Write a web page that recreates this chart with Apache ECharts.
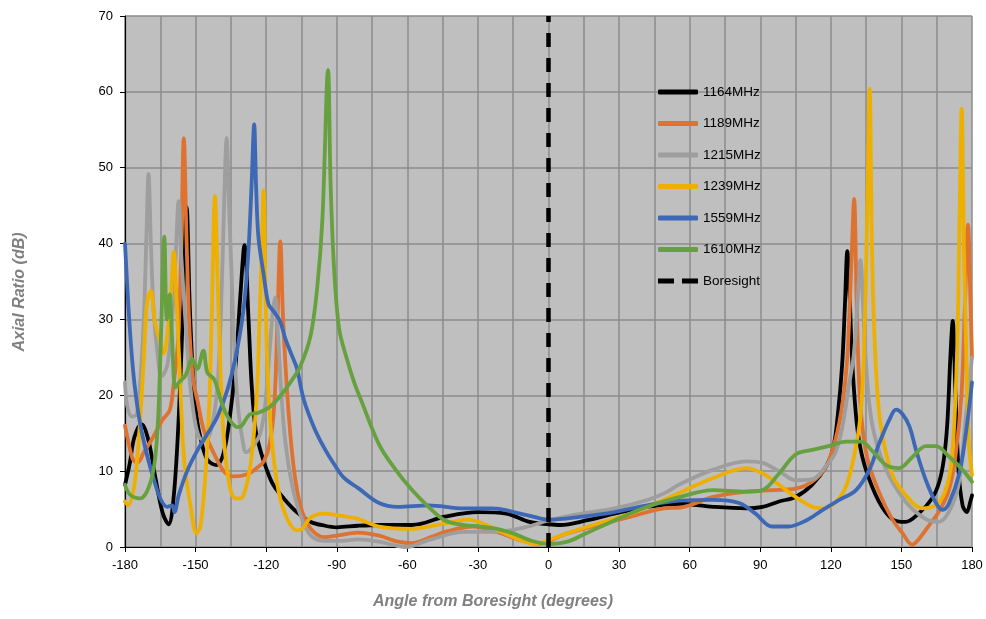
<!DOCTYPE html>
<html>
<head>
<meta charset="utf-8">
<script src="https://cdn.jsdelivr.net/npm/echarts@6/dist/echarts.min.js"></script>
<style>
html,body{margin:0;padding:0;background:#fff;}
#chart{width:986px;height:619px;}
</style>
</head>
<body>
<div id="chart"></div>
<script>
var seriesNames = ['1164MHz','1189MHz','1215MHz','1239MHz','1559MHz','1610MHz','Boresight'];
var xTicks = [-180,-150,-120,-90,-60,-30,0,30,60,90,120,150,180];
var yTicks = [0,10,20,30,40,50,60,70];

var ar1164 = [[-180,8.2],[-178,11],[-176,14.5],[-173,16.2],[-170,14],[-167,9],[-164,4.5],[-161.5,3.0],[-159.5,6],[-157.5,15],[-155.5,30],[-153.8,44.8],[-152.5,32],[-151,22],[-149.5,17],[-148,14.5],[-145,11.5],[-141,10.8],[-138,12.5],[-135.5,17],[-133,24],[-131,33],[-129.2,39.8],[-127.5,30],[-126.2,21.5],[-124.5,15.5],[-122.5,12.8],[-120,10.4],[-117,8.2],[-112.5,6.4],[-107,4.6],[-101,3.3],[-95,2.8],[-90,2.6],[-81,2.8],[-72,2.9],[-58,2.9],[-44,4.0],[-30,4.6],[-18,4.4],[-8,3.3],[0,3.0],[5,2.9],[16,3.5],[28,4.4],[42,5.3],[56,5.7],[70,5.3],[84,5.1],[91,5.3],[98,6.0],[105,6.6],[112,8.2],[118,10.6],[121,13],[123,17.5],[124.8,24],[126,32],[127,39],[128,33],[129,25],[130.5,18],[132,14],[134.7,10.4],[140.4,6.0],[146,3.7],[151.7,3.3],[157.3,4.4],[163,6.4],[166,8.5],[168,11.5],[169.5,16.3],[170.8,25],[171.8,29.8],[172.9,21],[174.3,10],[176,5.5],[177.8,4.6],[179.3,6.0],[180,6.8]];

var ar1189 = [[-180,16],[-178,13],[-176.5,11.5],[-174.5,11.2],[-172,12.5],[-168,14.5],[-164,16.8],[-161,18],[-159.5,21],[-157.5,27],[-156.2,38],[-155,53.9],[-153.8,40],[-152.5,28],[-151,22],[-149,19],[-146.5,15.4],[-142,12.2],[-138,10],[-134,9.3],[-128,9.6],[-124,10.4],[-121,11.3],[-118.5,13.6],[-116.5,19],[-115.2,30],[-114,40.3],[-112.8,30],[-111,20],[-108.5,11],[-105.5,5.5],[-101,2.4],[-95,1.3],[-90,1.5],[-81,1.9],[-72,1.5],[-64,0.7],[-58,0.5],[-50,1.3],[-44,2.0],[-32,2.7],[-22,2.0],[-12,0.9],[-4,0.4],[0,0.8],[8,1.8],[21,2.9],[35,4.0],[49,5.1],[56,5.2],[70,6.6],[84,7.3],[95,7.5],[105,7.7],[112,8.6],[118,10.6],[122,14.2],[125,19],[127,25],[128.8,38],[129.9,45.9],[131,32],[132.5,19],[135.4,11.8],[140.4,7.3],[146,3.7],[150.3,1.9],[154.6,0.3],[157.3,1.0],[161.6,2.8],[165.8,4.6],[170,7.3],[172.9,11.8],[175.5,20],[177,32],[178.3,42.5],[179.3,33],[180,25]];

var ar1215 = [[-180,21.7],[-179,18.5],[-177,17.2],[-175,17.5],[-173.5,22],[-172,30],[-170.8,42],[-170,49.2],[-169,40],[-167.8,31],[-166,25],[-164.5,22.5],[-162,24],[-160,30],[-158.5,38],[-157.2,45.6],[-156,38],[-154.3,29.7],[-152.5,22],[-150.5,17],[-148.5,14.5],[-146,14],[-143,16],[-140.5,22],[-138.8,35],[-137.8,46],[-136.8,53.9],[-135.8,45],[-134.7,36],[-133.5,26],[-132,18.5],[-130,14],[-128.5,12.5],[-126,13.1],[-122.6,14.9],[-120.5,18.5],[-118.5,26],[-117.2,31],[-116.1,32.9],[-115,28],[-113.5,20],[-111.9,14],[-109,8.2],[-105.4,4.2],[-101,1.5],[-95,0.8],[-88,0.8],[-81,1.0],[-72,0.7],[-65,0.2],[-60.5,0],[-51,0.9],[-36,2.0],[-22,2.0],[-10,2.6],[0,3.5],[14,4.4],[28,5.1],[42,6.2],[50,7.2],[56,8.3],[70,10.2],[84,11.3],[91,11.1],[98,10],[105,8.8],[112,8.9],[118,10.7],[122,12.5],[125,16],[127.5,21],[129.7,25.2],[131.5,33],[132.6,37.8],[133.7,32],[134.7,25.2],[137.5,16.3],[143.2,10.4],[151.7,6.0],[160.2,3.7],[165.8,3.3],[170.1,4.6],[174.3,8.2],[177.1,16.3],[180,25]];

var ar1239 = [[-180,6.0],[-178.6,5.5],[-176.5,7.3],[-175,11],[-173.5,17],[-172,25],[-170.7,32],[-169,33.8],[-167.2,29.5],[-165,27],[-163.6,25.5],[-162,28],[-160.5,33],[-159.3,38.9],[-158,32],[-157,25],[-155,12],[-152,5.1],[-149.6,1.8],[-147.9,2.8],[-145.8,9.6],[-144.3,18],[-143,32],[-141.8,46.3],[-140.6,35],[-139.5,24],[-137.9,14],[-135.5,8],[-133,6.4],[-131,6.4],[-128.3,8.2],[-126,12.5],[-124,20],[-122.8,30],[-121.8,40],[-121.1,47],[-120.3,34],[-119.4,23],[-117.6,14],[-114.7,7.3],[-111,3.7],[-107,2.2],[-104.7,2.4],[-101,3.9],[-95.4,4.4],[-90,4.2],[-81,3.7],[-72,2.7],[-58,2.4],[-44,3.1],[-34,3.6],[-25,2.7],[-15,1.3],[-5,0.4],[0,0.9],[8,1.8],[21,3.1],[35,4.4],[49,6.2],[56,7.2],[70,9.1],[84,10.4],[91,9.7],[98,8.2],[105,6.6],[112,5.3],[117,5.1],[122,5.9],[126.5,8.0],[130,12.2],[132.5,17],[134,25],[135.4,43],[136.5,60.4],[137.5,39],[138.9,25.2],[141.1,16.3],[146,9.6],[151.7,6.9],[158.8,5.1],[164.4,5.5],[168.6,7.3],[171.5,11.8],[173.6,25.2],[174.7,43],[175.6,57.8],[176.6,39],[177.6,25],[178.6,14],[180,9.5]];

var ar1559 = [[-180,40],[-178.6,32],[-177.1,25.2],[-175.7,20.8],[-173.6,16.3],[-170.7,12.2],[-167.9,9.1],[-165,6.4],[-162.1,5.3],[-160,5.5],[-159,4.6],[-157.1,6.9],[-153.6,10],[-149.3,12.7],[-145,14.9],[-140.7,17.2],[-136.4,20.8],[-133,25],[-129.7,31.1],[-127.6,38.7],[-126.2,47.7],[-125.1,55.7],[-124.3,47.7],[-123.3,40.9],[-121.1,36],[-119,32],[-116.9,31.1],[-114,29.7],[-111.9,27.5],[-109,25.2],[-106.9,23.5],[-104,19.4],[-99.7,15.8],[-95.4,13.1],[-91.1,10.9],[-86.9,9.1],[-81,7.8],[-72,5.8],[-64,5.3],[-51,5.5],[-36,5.1],[-24,5.1],[-12,4.4],[-4,3.8],[0,3.6],[14,4.0],[28,4.6],[42,5.5],[56,6.1],[70,6.2],[81,5.8],[88,4.4],[95,2.7],[102,2.7],[109.5,3.5],[116.6,4.9],[123.6,6.2],[130.7,7.5],[136.4,10.2],[140.6,13.7],[144.9,16.8],[147.7,18.1],[150.5,17.5],[153.4,15.9],[156.2,12.8],[160.4,8.8],[164.7,5.8],[167.5,4.9],[170.3,5.8],[174.6,9.7],[177.4,15],[180,21.7]];

var ar1610 = [[-180,8.2],[-177.9,6.9],[-173.6,6.4],[-170.7,7.3],[-168,10],[-166.5,14],[-165.5,20],[-164.5,30],[-163.3,40.9],[-162.2,30],[-161,33.3],[-160,27.5],[-158.6,21],[-157.1,21.7],[-154.3,22.6],[-151.4,24.8],[-149.3,23.5],[-146.7,25.9],[-145,23],[-142.1,22.1],[-139.3,19.4],[-136.4,17.2],[-132.1,15.8],[-130.4,16],[-126.9,17.5],[-123.3,17.7],[-118.3,18.5],[-114,19.9],[-109.7,21.7],[-105.4,23.9],[-101.1,27.9],[-98.3,34.2],[-96.1,43.2],[-93.7,62.9],[-92.6,47.7],[-91.1,36.5],[-89,28.8],[-86.1,25.2],[-82.6,21.7],[-79.7,19.4],[-72,13.5],[-65,10.2],[-58,7.5],[-51,5.3],[-44,3.5],[-36,2.9],[-29,2.7],[-22,2.4],[-15,1.8],[-8,0.9],[0,0.4],[8,0.7],[16,1.8],[28,3.5],[42,5.3],[56,6.6],[70,7.5],[84,7.3],[91,7.5],[98,9.7],[105,12.2],[112,12.8],[119,13.3],[126.5,13.9],[132.8,13.9],[137.8,12.6],[143.5,10.8],[149,10.4],[154.8,11.9],[160.4,13.3],[164.7,13.3],[170.3,11.9],[175.9,10.2],[180,8.6]];

var boresight = [[0,0],[0,70]];

var colors = ['#000000','#DE7230','#9E9E9E','#EDB000','#3D68B5','#67A03F','#000000'];
var seriesData = [ar1164, ar1189, ar1215, ar1239, ar1559, ar1610];

var font = "Arial, 'Liberation Sans', sans-serif";
var chart = echarts.init(document.getElementById('chart'), null, {renderer:'canvas'});

var series = seriesData.map(function(d, i){
  return {
    name: seriesNames[i], type: 'line', data: d,
    showSymbol: false, symbol: 'none', smooth: 0.35,
    lineStyle: {color: colors[i], width: 3.8, cap: 'round', join: 'round'},
    itemStyle: {color: colors[i]},
    emphasis: {disabled: true}, z: 2 + i
  };
});
series.push({
  name: seriesNames[6], type: 'line', data: boresight,
  showSymbol: false, symbol: 'none',
  lineStyle: {color: '#000', width: 4.5, type: [14, 11], cap: 'butt'},
  itemStyle: {color: '#000'},
  emphasis: {disabled: true}, z: 10
});

var legendData = seriesNames.map(function(n, i){
  if (i === 6) return {name: n, icon: 'path://M0,0h16v5h-16z M24,0h16v5h-16z'};
  return {name: n, icon: 'roundRect'};
});

chart.setOption({
  animation: false,
  backgroundColor: '#ffffff',
  grid: {left:125, right:14, top:16, bottom:72, show:true, backgroundColor:'#BFBFBF', borderWidth:0, containLabel:false},
  xAxis: {
    type:'value', min:-180, max:180, interval:30,
    axisLine:{show:true, onZero:false, lineStyle:{color:'#000', width:1.2}},
    axisTick:{show:true, length:5, lineStyle:{color:'#000'}},
    minorTick:{show:false, splitNumber:2},
    minorSplitLine:{show:true, lineStyle:{color:'#8C8C8C', width:1.5}},
    splitLine:{show:true, lineStyle:{color:'#8C8C8C', width:1.5}},
    axisLabel:{color:'#000', fontSize:13, fontFamily:font, margin:12,
      formatter:function(v){ return xTicks.indexOf(v) >= 0 ? String(v) : ''; }}
  },
  yAxis: {
    type:'value', min:0, max:70, interval:10,
    axisLine:{show:true, onZero:false, lineStyle:{color:'#000', width:1.2}},
    axisTick:{show:true, length:5, lineStyle:{color:'#000'}},
    splitLine:{show:true, lineStyle:{color:'#8C8C8C', width:1.5}},
    axisLabel:{color:'#000', fontSize:13, fontFamily:font, margin:12,
      formatter:function(v){ return yTicks.indexOf(v) >= 0 ? String(v) : ''; }}
  },
  legend: {
    data: legendData, orient:'vertical', left:658, top:84, padding:0,
    itemWidth:40, itemHeight:5, itemGap:15.5,
    textStyle:{color:'#000', fontSize:13.5, fontFamily:font, lineHeight:16},
    selectedMode:false
  },
  graphic: [
    {type:'text', left:'center', top:594, style:{text:'Angle from Boresight (degrees)', font:'italic bold 16px ' + font, fill:'#808080'}},
    {type:'text', x:20, y:292, rotation:Math.PI/2, style:{text:'Axial Ratio (dB)', font:'italic bold 16px ' + font, fill:'#808080', align:'center', verticalAlign:'middle'}}
  ],
  series: series
});
</script>
</body>
</html>
